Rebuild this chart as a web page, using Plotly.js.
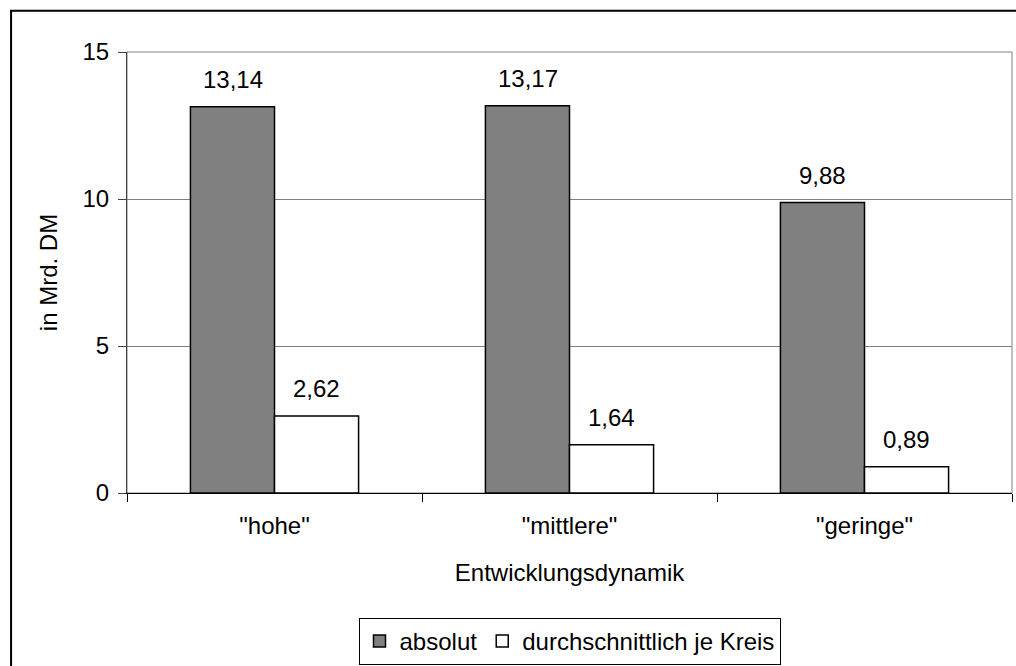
<!DOCTYPE html>
<html>
<head>
<meta charset="utf-8">
<script src="https://cdn.plot.ly/plotly-3.0.1.min.js"></script>
<style>
  html, body { margin: 0; padding: 0; background: #ffffff; }
  #chart { width: 1016px; height: 666px; }
</style>
</head>
<body>
<div id="chart"></div>
<script>
// ---- data ----
const categories = ['"hohe"', '"mittlere"', '"geringe"'];
const seriesNames = ['absolut', 'durchschnittlich je Kreis'];
const absolut = [13.14, 13.17, 9.88];
const jeKreis = [2.62, 1.64, 0.89];
const yTicks = [0, 5, 10, 15];
const yTitle = 'in Mrd. DM';
const xTitle = 'Entwicklungsdynamik';

const FONT = '"Liberation Sans", Arial, sans-serif';
const fmt = v => v.toFixed(2).replace('.', ',');

const traces = [
  {
    type: 'bar', name: seriesNames[0], x: categories, y: absolut,
    marker: { color: '#808080', line: { color: '#000000', width: 1.5 } },
    hoverinfo: 'none'
  },
  {
    type: 'bar', name: seriesNames[1], x: categories, y: jeKreis,
    marker: { color: '#ffffff', line: { color: '#000000', width: 1.5 } },
    hoverinfo: 'none'
  }
];

// value labels above the bars
const annotations = [];
[absolut, jeKreis].forEach((vals, s) => {
  vals.forEach((v, i) => {
    annotations.push({
      xref: 'x', yref: 'y', x: i, y: v,
      text: fmt(v), showarrow: false,
      xanchor: 'center', yanchor: 'bottom',
      xshift: s === 0 ? -42 : 42, yshift: 12,
      font: { family: FONT, size: 24, color: '#000000' }
    });
  });
});

const layout = {
  width: 1016, height: 666,
  margin: { l: 127, r: 4, t: 52, b: 173, pad: 0 },
  paper_bgcolor: '#ffffff', plot_bgcolor: '#ffffff',
  font: { family: FONT, size: 24, color: '#000000' },
  barmode: 'group', bargap: 0.43, bargroupgap: 0,
  showlegend: true,
  legend: {
    orientation: 'h', xref: 'paper', x: 0.5, xanchor: 'center',
    yref: 'container', y: 0.0015, yanchor: 'bottom',
    bordercolor: '#000000', borderwidth: 1, bgcolor: '#ffffff',
    font: { family: FONT, size: 24, color: '#000000' },
    itemwidth: 30, traceorder: 'normal'
  },
  xaxis: {
    type: 'category', automargin: false,
    showline: true, linecolor: '#000000', linewidth: 1,
    ticks: 'outside', tickson: 'boundaries', ticklen: 8, tickcolor: '#000000', tickwidth: 1,
    showgrid: false, zeroline: false, fixedrange: true,
    tickfont: { family: FONT, size: 24, color: '#000000' },
    ticklabelstandoff: 11,
    title: { text: xTitle, font: { family: FONT, size: 24, color: '#000000' }, standoff: 26 }
  },
  yaxis: {
    range: [0, 15], tickvals: yTicks, ticktext: yTicks.map(String), automargin: false,
    showline: true, linecolor: '#404040', linewidth: 1,
    ticks: 'outside', ticklen: 8, tickcolor: '#404040', tickwidth: 1,
    showgrid: true, gridcolor: '#808080', gridwidth: 1,
    zeroline: false, fixedrange: true,
    tickfont: { family: FONT, size: 24, color: '#000000' },
    ticklabelstandoff: 4,
    title: { text: yTitle, font: { family: FONT, size: 24, color: '#000000' }, standoff: 18 }
  },
  shapes: [
    { type: 'rect', xref: 'paper', yref: 'paper', x0: 0, x1: 1, y0: 0, y1: 1,
      line: { color: '#808080', width: 1 }, fillcolor: 'rgba(0,0,0,0)', layer: 'below' },
    { type: 'rect', xref: 'paper', yref: 'paper', x0: -0.131, x1: 1.2, y0: -1, y1: 1.0935,
      line: { color: '#000000', width: 2 }, fillcolor: 'rgba(0,0,0,0)', layer: 'above' }
  ],
  annotations: annotations
};

Plotly.newPlot('chart', traces, layout, { displayModeBar: false, staticPlot: true });
</script>
</body>
</html>
